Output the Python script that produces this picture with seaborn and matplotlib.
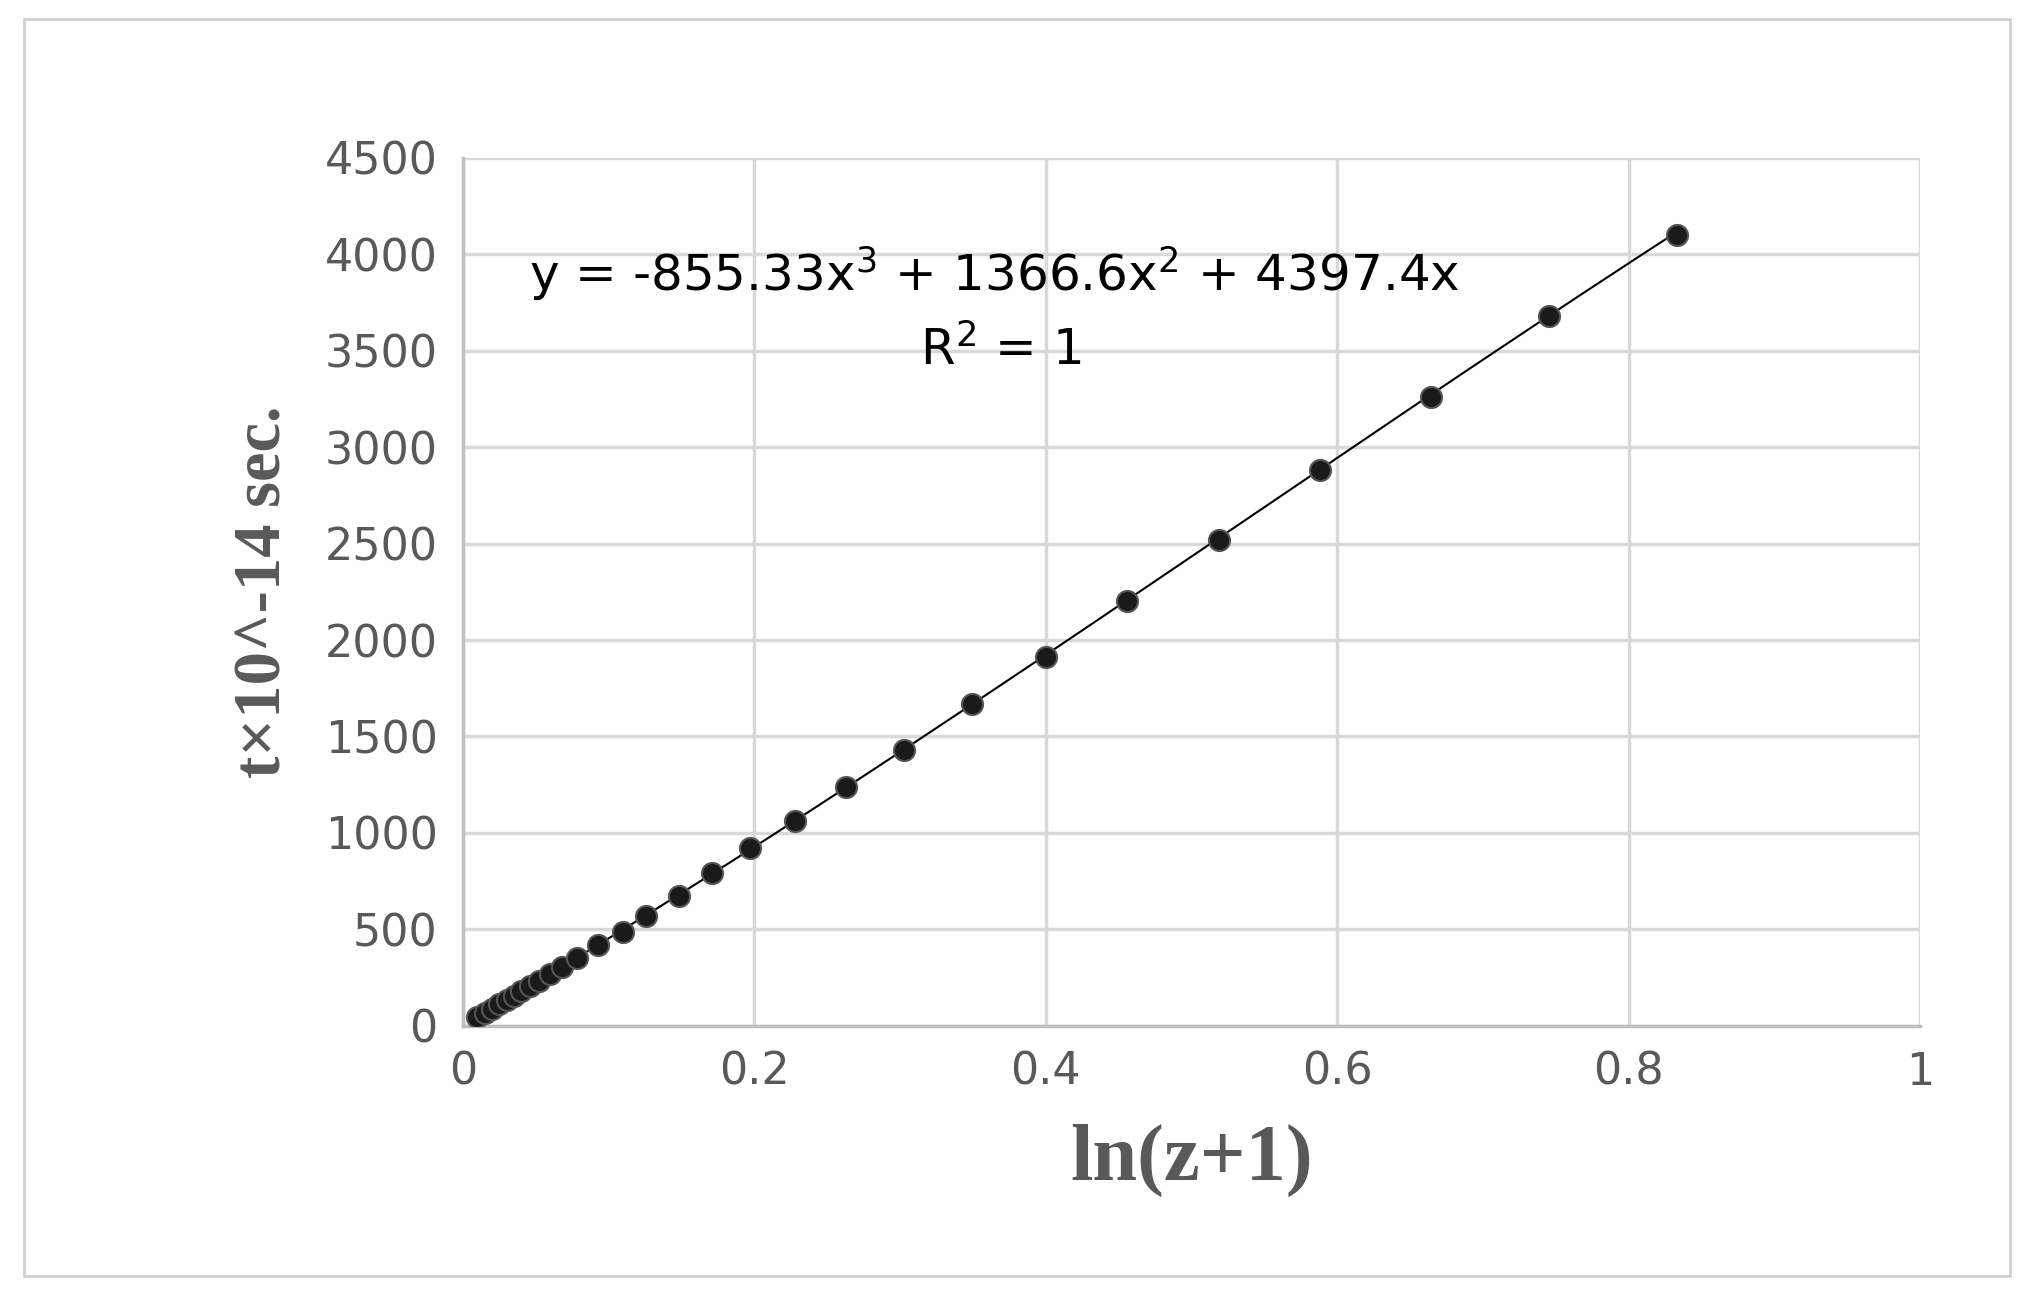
import matplotlib
matplotlib.use("Agg")
import matplotlib.pyplot as plt
import seaborn as sns
import pandas as pd
import numpy as np

# ── Data ─────────────────────────────────────────────────────────────────────
ln_z1 = [0.010, 0.015, 0.020, 0.025, 0.030, 0.035, 0.040, 0.046, 0.052, 0.060,
         0.068, 0.078, 0.093, 0.110, 0.126, 0.148, 0.171, 0.197, 0.228, 0.263,
         0.303, 0.349, 0.400, 0.456, 0.519, 0.588, 0.664, 0.745, 0.833]
t_sec = [44, 66, 88, 110, 133, 155, 178, 205, 233, 268,
         305, 350, 420, 485, 570, 670, 790, 920, 1060, 1240,
         1430, 1670, 1910, 2200, 2520, 2880, 3260, 3680, 4100]
coef = [-855.33, 1366.6, 4397.4]

df = pd.DataFrame({"x": ln_z1, "y": t_sec})

sns.set_theme(style="white")
fig = plt.figure(figsize=(20.3, 12.95), dpi=100)
ax = fig.add_axes([0.228, 0.208, 0.718, 0.67])

# trendline
xf = np.linspace(min(ln_z1), max(ln_z1), 200)
yf = coef[0] * xf**3 + coef[1] * xf**2 + coef[2] * xf
ax.plot(xf, yf, color="black", lw=1.5, zorder=2)

sns.scatterplot(data=df, x="x", y="y", ax=ax, s=230, color="#1a1a1a",
                edgecolor="#555555", linewidth=1.5, zorder=3, legend=False)

ax.set_xlim(0, 1)
ax.set_ylim(0, 4500)
ax.set_xticks(np.arange(0, 1.01, 0.2))
ax.set_xticklabels(["0", "0.2", "0.4", "0.6", "0.8", "1"])
ax.set_yticks(range(0, 4501, 500))
ax.grid(True, color="#d9d9d9", lw=2.5)
ax.set_axisbelow(True)
for s in ["top", "right"]:
    ax.spines[s].set_visible(False)
for s in ["left", "bottom"]:
    ax.spines[s].set_color("#bfbfbf")
    ax.spines[s].set_linewidth(2.5)
ax.tick_params(axis="both", labelsize=32, colors="#595959", length=0, pad=18)

ax.set_xlabel("ln(z+1)", fontsize=58, fontweight="bold", color="#595959",
              family="Liberation Serif", labelpad=22)
ax.set_ylabel("t×10^-14 sec.", fontsize=48, fontweight="bold", color="#595959",
              family="Liberation Serif", labelpad=22)

ax.text(0.365, 3900, "y = -855.33x$^3$ + 1366.6x$^2$ + 4397.4x", fontsize=36,
        ha="center", va="center", color="black")
ax.text(0.369, 3500, "R$^2$ = 1", fontsize=36, ha="center", va="center",
        color="black")

# outer frame
fig.patches.append(plt.Rectangle((0.012, 0.015), 0.978, 0.97, transform=fig.transFigure,
                                 fill=False, edgecolor="#d0d0d0", lw=2))

fig.savefig("out.png", dpi=100)
